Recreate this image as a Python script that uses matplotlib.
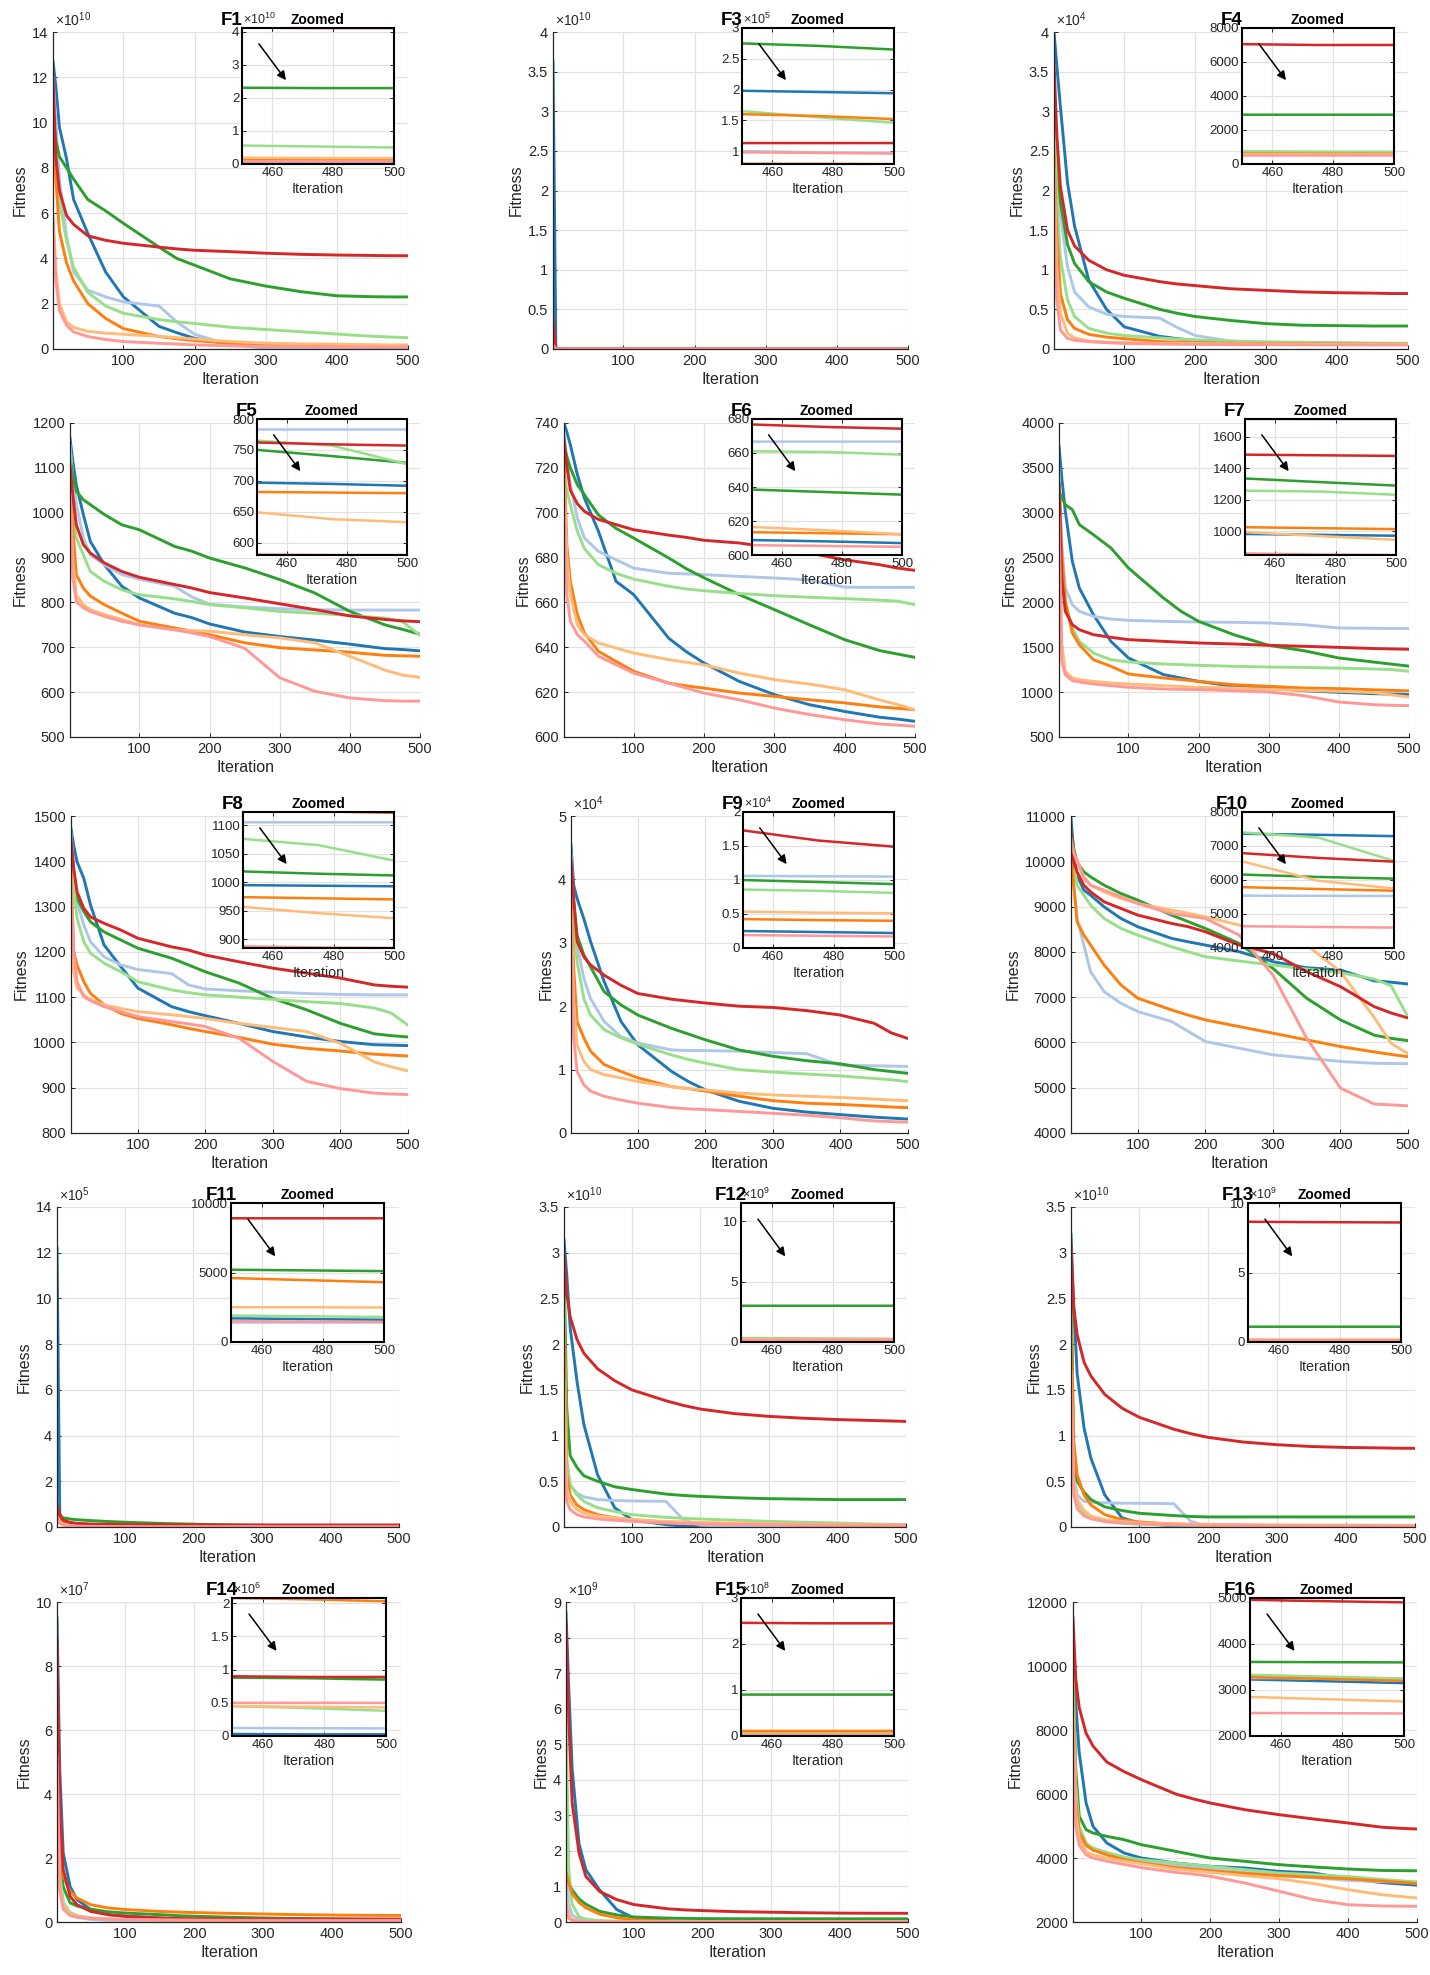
import numpy as np
import matplotlib
matplotlib.use("Agg")
import matplotlib.pyplot as plt
from matplotlib.ticker import FuncFormatter

plt.rcParams['font.family'] = ['Liberation Sans', 'DejaVu Sans']

W, H = 1430, 1975

ITERS = [1, 5, 10, 20, 30, 50, 75, 100, 150, 175, 200, 250, 300, 350, 400, 450, 475, 500]

# row order in every panel: red, green, light green, blue, light blue, orange, light orange, pink
COLORS = ['#d62728', '#2ca02c', '#98df8a', '#1f77b4', '#aec7e8', '#ff7f0e', '#ffbb78', '#ff9896']
DRAW_ORDER = [3, 4, 1, 2, 5, 6, 0, 7]

F1 = np.array([
    [12.0, 8.5, 7.0, 5.9, 5.5, 5.0, 4.8, 4.67, 4.5, 4.42, 4.36, 4.3, 4.23, 4.18, 4.15, 4.13, 4.12, 4.12],
    [10.4, 9.2, 8.5, 8.0, 7.5, 6.6, 6.1, 5.55, 4.5, 4.0, 3.7, 3.1, 2.78, 2.53, 2.35, 2.31, 2.3, 2.3],
    [9.5, 8.0, 6.5, 4.8, 3.6, 2.5, 1.9, 1.58, 1.3, 1.2, 1.13, 0.96, 0.86, 0.76, 0.66, 0.56, 0.53, 0.5],
    [12.7, 11.6, 9.8, 8.4, 6.6, 5.1, 3.4, 2.3, 1.0, 0.72, 0.47, 0.22, 0.06, 0.03, 0.02, 0.02, 0.02, 0.02],
    [12.0, 10.0, 7.5, 5.0, 3.4, 2.6, 2.3, 2.08, 1.9, 1.2, 0.65, 0.18, 0.04, 0.02, 0.01, 0.01, 0.01, 0.01],
    [11.0, 7.5, 5.2, 3.8, 3.0, 2.0, 1.35, 0.9, 0.55, 0.45, 0.37, 0.26, 0.2, 0.17, 0.15, 0.14, 0.13, 0.13],
    [6.0, 3.5, 2.0, 1.2, 0.95, 0.78, 0.7, 0.65, 0.56, 0.5, 0.44, 0.33, 0.26, 0.23, 0.21, 0.19, 0.18, 0.18],
    [5.7, 3.0, 1.7, 1.05, 0.75, 0.55, 0.42, 0.33, 0.25, 0.22, 0.18, 0.14, 0.11, 0.1, 0.09, 0.08, 0.08, 0.08],
]) * 1e10

F3 = np.array([
    [4.0e9, 2e7, 5e6, 1e6, 6e5, 3e5, 2e5, 1.6e5, 1.3e5, 1.25e5, 1.2e5, 1.18e5, 1.16e5, 1.15e5, 1.14e5, 1.13e5, 1.13e5, 1.13e5],
    [1e9, 3e7, 1e7, 3e6, 1.5e6, 8e5, 5e5, 4e5, 3.4e5, 3.2e5, 3.1e5, 2.95e5, 2.88e5, 2.82e5, 2.78e5, 2.75e5, 2.71e5, 2.65e5],
    [8e8, 2e7, 5e6, 1e6, 6e5, 4e5, 3e5, 2.5e5, 2.1e5, 2.0e5, 1.9e5, 1.8e5, 1.75e5, 1.7e5, 1.68e5, 1.65e5, 1.55e5, 1.46e5],
    [3.63e10, 5e7, 2e7, 5e6, 2e6, 1e6, 6e5, 4e5, 3e5, 2.6e5, 2.4e5, 2.2e5, 2.1e5, 2.05e5, 2.0e5, 1.98e5, 1.96e5, 1.94e5],
    [2e9, 1e7, 3e6, 8e5, 4e5, 2.5e5, 1.8e5, 1.5e5, 1.3e5, 1.2e5, 1.15e5, 1.1e5, 1.05e5, 1.03e5, 1.01e5, 1.0e5, 0.98e5, 0.97e5],
    [1.5e9, 1e7, 3e6, 8e5, 4e5, 2.6e5, 2.1e5, 1.9e5, 1.8e5, 1.75e5, 1.72e5, 1.68e5, 1.65e5, 1.63e5, 1.61e5, 1.6e5, 1.57e5, 1.52e5],
    [1e9, 5e6, 1e6, 3e5, 1.8e5, 1.2e5, 1.0e5, 0.95e5, 0.9e5, 0.88e5, 0.86e5, 0.84e5, 0.83e5, 0.82e5, 0.81e5, 0.8e5, 0.8e5, 0.79e5],
    [5e8, 5e6, 1e6, 3e5, 1.8e5, 1.3e5, 1.15e5, 1.1e5, 1.05e5, 1.03e5, 1.02e5, 1.0e5, 0.99e5, 0.985e5, 0.98e5, 0.98e5, 0.97e5, 0.96e5],
])

F4 = np.array([
    [3.6, 2.7, 2.05, 1.5, 1.3, 1.12, 1.0, 0.93, 0.85, 0.82, 0.8, 0.76, 0.74, 0.72, 0.71, 0.705, 0.7, 0.7],
    [3.2, 2.4, 1.85, 1.32, 1.08, 0.85, 0.72, 0.64, 0.5, 0.45, 0.41, 0.36, 0.32, 0.3, 0.295, 0.29, 0.29, 0.29],
    [3.0, 1.9, 1.15, 0.62, 0.41, 0.26, 0.2, 0.17, 0.14, 0.125, 0.115, 0.1, 0.09, 0.085, 0.08, 0.075, 0.073, 0.072],
    [4.0, 3.57, 3.06, 2.1, 1.55, 0.87, 0.5, 0.28, 0.16, 0.13, 0.11, 0.09, 0.08, 0.075, 0.07, 0.066, 0.065, 0.065],
    [2.9, 2.3, 1.7, 1.04, 0.72, 0.53, 0.44, 0.41, 0.39, 0.27, 0.17, 0.1, 0.08, 0.072, 0.068, 0.065, 0.064, 0.064],
    [2.45, 1.45, 0.7, 0.37, 0.26, 0.185, 0.15, 0.13, 0.095, 0.085, 0.08, 0.072, 0.068, 0.065, 0.063, 0.061, 0.06, 0.06],
    [2.3, 1.0, 0.45, 0.2, 0.14, 0.1, 0.085, 0.08, 0.072, 0.07, 0.068, 0.065, 0.062, 0.06, 0.058, 0.057, 0.056, 0.056],
    [2.25, 0.62, 0.24, 0.135, 0.11, 0.093, 0.08, 0.07, 0.062, 0.06, 0.058, 0.055, 0.053, 0.052, 0.051, 0.05, 0.05, 0.05],
]) * 1e4

F5 = np.array([
    [1108, 1040, 973, 929, 910, 888, 869, 856, 840, 832, 822, 810, 797, 784, 770, 762, 759, 757],
    [1120, 1085, 1048, 1029, 1018, 996, 973, 962, 925, 914, 899, 877, 851, 821, 780, 750, 740, 729],
    [1130, 1000, 944, 906, 869, 847, 828, 817, 808, 802, 795, 788, 780, 776, 771, 765, 757, 727],
    [1166, 1115, 1062, 996, 936, 884, 836, 810, 776, 766, 752, 734, 724, 716, 707, 697, 695, 692],
    [1150, 1080, 1020, 944, 906, 884, 862, 852, 836, 812, 796, 790, 786, 784, 783, 783, 783, 783],
    [1100, 966, 862, 832, 814, 795, 776, 758, 743, 736, 728, 710, 699, 694, 689, 682, 681, 680],
    [1050, 892, 817, 795, 784, 773, 762, 750, 739, 737, 736, 728, 721, 710, 680, 649, 638, 633],
    [1040, 855, 802, 788, 780, 769, 758, 750, 739, 732, 724, 698, 632, 602, 587, 581, 580, 580],
])

F6 = np.array([
    [733, 721, 710, 704, 700.6, 697, 694.7, 692.4, 690, 689, 687.7, 686.5, 684.3, 682, 679, 676.8, 675.3, 674.3],
    [730, 725, 720, 712.5, 708, 699, 693, 688.7, 679.8, 675, 671, 663.5, 656.8, 650, 643.4, 638.5, 637, 635.5],
    [718, 710, 703.6, 691.7, 684, 676.8, 673, 670.4, 667.2, 666, 665.2, 664, 663, 662.3, 661.7, 661, 660.6, 659],
    [740, 736, 730.3, 717, 706.5, 691.7, 669.4, 663.5, 644, 638, 633, 624.8, 618.9, 614.4, 611.4, 608.8, 608, 607],
    [736, 724, 712.5, 697.6, 688.7, 682.8, 679, 675.3, 673, 672.7, 672.4, 671.6, 670.9, 670, 666.8, 666.7, 666.7, 666.7],
    [726, 685.7, 669.4, 654.5, 646.4, 638.2, 633.7, 629.3, 624, 622.8, 621.8, 619.6, 618.1, 616.6, 615.2, 613.4, 612.8, 612.2],
    [715, 680, 663.5, 650, 645.6, 641.9, 639.7, 637.4, 634.5, 633.3, 632.2, 628.5, 625.6, 623.6, 621.1, 616.5, 614.5, 612.2],
    [710, 663.5, 651.6, 645.6, 642.7, 636, 632.2, 628.5, 624, 621.8, 619.6, 616.6, 612.9, 610, 607.7, 605.8, 605.3, 604.8],
])

F7 = np.array([
    [3330, 2272, 1901, 1752, 1696, 1641, 1611, 1585, 1566, 1557, 1548, 1537, 1522, 1511, 1499, 1486, 1482, 1478],
    [3240, 3164, 3090, 3034, 2867, 2755, 2607, 2384, 2049, 1901, 1789, 1641, 1522, 1462, 1381, 1335, 1312, 1290],
    [3420, 2458, 2012, 1715, 1566, 1436, 1362, 1336, 1314, 1306, 1299, 1288, 1280, 1275, 1268, 1258, 1252, 1232],
    [3740, 3387, 3015, 2458, 2161, 1864, 1566, 1381, 1195, 1158, 1120, 1065, 1046, 1016, 998, 983, 978, 972],
    [3480, 2644, 2161, 1975, 1901, 1845, 1815, 1800, 1789, 1785, 1782, 1778, 1771, 1752, 1715, 1712, 1710, 1710],
    [3310, 2532, 2012, 1659, 1529, 1362, 1288, 1202, 1158, 1139, 1120, 1083, 1065, 1046, 1039, 1026, 1020, 1014],
    [2900, 1529, 1232, 1158, 1139, 1120, 1102, 1091, 1072, 1063, 1054, 1046, 1031, 1020, 1009, 995, 970, 946],
    [2950, 1343, 1195, 1128, 1113, 1091, 1072, 1054, 1035, 1031, 1028, 1016, 1002, 961, 890, 860, 853, 850],
])

F8 = np.array([
    [1450, 1384, 1332, 1296, 1277, 1263, 1248, 1230, 1211, 1204, 1193, 1178, 1164, 1153, 1142, 1127, 1124, 1122],
    [1430, 1370, 1318, 1289, 1266, 1244, 1226, 1208, 1186, 1171, 1156, 1131, 1097, 1072, 1042, 1019, 1015, 1012],
    [1410, 1347, 1274, 1222, 1197, 1175, 1156, 1134, 1116, 1110, 1105, 1100, 1095, 1090, 1086, 1076, 1065, 1038],
    [1472, 1435, 1399, 1362, 1303, 1215, 1167, 1120, 1079, 1068, 1059, 1042, 1024, 1012, 1002, 995, 994, 993],
    [1460, 1384, 1310, 1259, 1222, 1189, 1171, 1161, 1152, 1127, 1118, 1114, 1111, 1108, 1106, 1105, 1105, 1105],
    [1390, 1200, 1171, 1134, 1108, 1083, 1064, 1053, 1039, 1031, 1024, 1011, 996, 987, 981, 974, 972, 970],
    [1370, 1156, 1120, 1105, 1094, 1083, 1075, 1068, 1061, 1057, 1053, 1042, 1033, 1024, 998, 957, 946, 937],
    [1360, 1200, 1134, 1101, 1092, 1079, 1068, 1057, 1046, 1041, 1035, 1009, 958, 914, 898, 888, 886, 885],
])

F9 = np.array([
    [4.3, 3.7, 3.02, 2.78, 2.65, 2.49, 2.33, 2.2, 2.11, 2.08, 2.05, 2.0, 1.98, 1.93, 1.86, 1.73, 1.58, 1.49],
    [4.2, 3.65, 3.12, 2.81, 2.62, 2.23, 2.02, 1.86, 1.65, 1.56, 1.47, 1.31, 1.21, 1.14, 1.09, 1.0, 0.97, 0.94],
    [3.9, 3.28, 2.7, 2.12, 1.86, 1.63, 1.5, 1.4, 1.23, 1.16, 1.1, 1.0, 0.96, 0.93, 0.9, 0.86, 0.84, 0.81],
    [4.54, 3.91, 3.7, 3.38, 3.02, 2.39, 1.76, 1.39, 0.97, 0.81, 0.68, 0.5, 0.39, 0.33, 0.29, 0.25, 0.235, 0.22],
    [4.4, 3.6, 2.96, 2.44, 2.12, 1.76, 1.52, 1.42, 1.31, 1.3, 1.3, 1.29, 1.27, 1.25, 1.07, 1.06, 1.055, 1.05],
    [3.7, 2.6, 1.76, 1.5, 1.29, 1.08, 0.97, 0.87, 0.73, 0.7, 0.66, 0.58, 0.51, 0.47, 0.45, 0.425, 0.41, 0.4],
    [3.5, 2.07, 1.39, 1.13, 1.0, 0.92, 0.87, 0.81, 0.73, 0.7, 0.68, 0.63, 0.6, 0.58, 0.56, 0.535, 0.52, 0.51],
    [3.3, 1.5, 0.97, 0.76, 0.66, 0.58, 0.52, 0.47, 0.4, 0.38, 0.37, 0.34, 0.31, 0.28, 0.24, 0.19, 0.18, 0.17],
]) * 1e4

F10 = np.array([
    [10650, 9986, 9766, 9472, 9325, 9105, 8958, 8811, 8627, 8554, 8444, 8150, 7966, 7562, 7232, 6790, 6650, 6540],
    [10700, 10280, 9986, 9766, 9656, 9472, 9288, 9142, 8811, 8664, 8517, 8187, 7636, 6975, 6497, 6160, 6090, 6040],
    [10500, 9986, 9472, 9252, 9031, 8737, 8517, 8370, 8113, 8000, 7893, 7797, 7709, 7621, 7540, 7400, 7250, 6560],
    [10950, 10206, 9692, 9362, 9252, 8994, 8737, 8554, 8297, 8220, 8150, 8003, 7783, 7650, 7599, 7360, 7330, 7290],
    [10400, 9472, 8737, 8150, 7562, 7122, 6865, 6681, 6461, 6240, 6020, 5873, 5726, 5653, 5579, 5540, 5535, 5530],
    [10300, 9472, 8664, 8370, 8150, 7709, 7268, 6975, 6718, 6600, 6497, 6350, 6204, 6057, 5910, 5790, 5735, 5685],
    [10200, 10100, 10060, 9619, 9472, 9325, 9178, 9068, 8921, 8850, 8774, 8591, 8370, 8150, 7562, 6550, 5980, 5750],
    [10500, 10200, 9986, 9656, 9472, 9362, 9215, 9068, 8848, 8790, 8737, 8370, 7489, 6093, 4992, 4640, 4620, 4600],
])

F11 = np.array([
    [1.0e5, 5e4, 3e4, 2e4, 1.6e4, 1.3e4, 1.15e4, 1.05e4, 9.7e3, 9.5e3, 9.3e3, 9.1e3, 9.0e3, 8.95e3, 8.9e3, 8.9e3, 8.9e3, 8.9e3],
    [8e4, 5e4, 4e4, 3.5e4, 3.2e4, 2.8e4, 2.4e4, 2.1e4, 1.6e4, 1.4e4, 1.25e4, 9e3, 7e3, 6.2e3, 5.6e3, 5.2e3, 5.15e3, 5.1e3],
    [6e4, 2.5e4, 1.5e4, 1.0e4, 8e3, 6e3, 4.5e3, 3.8e3, 3e3, 2.7e3, 2.5e3, 2.2e3, 2.1e3, 2.0e3, 1.95e3, 1.9e3, 1.85e3, 1.8e3],
    [1.22e6, 6e4, 3e4, 1.5e4, 1e4, 6e3, 4e3, 3e3, 2.3e3, 2.1e3, 2e3, 1.9e3, 1.8e3, 1.75e3, 1.72e3, 1.7e3, 1.65e3, 1.6e3],
    [9e4, 3e4, 1.5e4, 8e3, 5e3, 3e3, 2.2e3, 1.9e3, 1.7e3, 1.6e3, 1.55e3, 1.5e3, 1.45e3, 1.42e3, 1.4e3, 1.4e3, 1.4e3, 1.4e3],
    [7e4, 3.5e4, 2.5e4, 1.8e4, 1.4e4, 1.1e4, 8.5e3, 7e3, 5.8e3, 5.4e3, 5.1e3, 4.9e3, 4.8e3, 4.7e3, 4.65e3, 4.6e3, 4.45e3, 4.3e3],
    [5e4, 2e4, 1.2e4, 8e3, 6e3, 4.5e3, 3.6e3, 3.2e3, 2.9e3, 2.8e3, 2.7e3, 2.6e3, 2.55e3, 2.52e3, 2.5e3, 2.5e3, 2.5e3, 2.48e3],
    [4e4, 1.5e4, 8e3, 5e3, 3.5e3, 2.6e3, 2.1e3, 1.9e3, 1.7e3, 1.65e3, 1.6e3, 1.55e3, 1.52e3, 1.5e3, 1.5e3, 1.5e3, 1.47e3, 1.45e3],
])

F12 = np.array([
    [3.0, 2.55, 2.3, 2.05, 1.9, 1.73, 1.6, 1.5, 1.38, 1.33, 1.29, 1.24, 1.21, 1.19, 1.175, 1.165, 1.16, 1.155],
    [2.9, 1.3, 0.78, 0.65, 0.56, 0.5, 0.44, 0.41, 0.36, 0.345, 0.335, 0.32, 0.31, 0.305, 0.3, 0.3, 0.3, 0.3],
    [2.5, 0.75, 0.46, 0.35, 0.28, 0.21, 0.17, 0.135, 0.105, 0.095, 0.088, 0.075, 0.062, 0.052, 0.044, 0.033, 0.03, 0.027],
    [3.14, 2.76, 2.18, 1.59, 1.12, 0.57, 0.21, 0.08, 0.025, 0.01, 0.005, 0.003, 0.002, 0.002, 0.002, 0.002, 0.002, 0.002],
    [2.0, 0.65, 0.46, 0.37, 0.33, 0.3, 0.29, 0.285, 0.28, 0.08, 0.02, 0.004, 0.002, 0.002, 0.002, 0.002, 0.002, 0.002],
    [2.2, 0.57, 0.35, 0.24, 0.19, 0.135, 0.1, 0.08, 0.055, 0.05, 0.044, 0.035, 0.028, 0.023, 0.019, 0.016, 0.015, 0.014],
    [1.6, 0.43, 0.28, 0.19, 0.15, 0.12, 0.1, 0.08, 0.06, 0.055, 0.05, 0.043, 0.036, 0.031, 0.027, 0.024, 0.023, 0.022],
    [0.9, 0.28, 0.19, 0.135, 0.11, 0.088, 0.073, 0.062, 0.044, 0.038, 0.033, 0.028, 0.025, 0.022, 0.02, 0.019, 0.018, 0.018],
]) * 1e10

F13 = np.array([
    [3.07, 2.4, 2.1, 1.8, 1.65, 1.45, 1.3, 1.2, 1.07, 1.02, 0.98, 0.93, 0.9, 0.88, 0.87, 0.865, 0.862, 0.86],
    [2.8, 0.7, 0.5, 0.38, 0.3, 0.22, 0.18, 0.15, 0.125, 0.115, 0.11, 0.11, 0.11, 0.11, 0.11, 0.11, 0.11, 0.11],
    [2.3, 0.45, 0.25, 0.15, 0.1, 0.06, 0.04, 0.03, 0.02, 0.017, 0.015, 0.012, 0.01, 0.008, 0.006, 0.005, 0.005, 0.005],
    [3.2, 2.4, 1.67, 1.08, 0.75, 0.35, 0.1, 0.045, 0.01, 0.005, 0.003, 0.002, 0.002, 0.002, 0.002, 0.002, 0.002, 0.002],
    [2.3, 0.57, 0.35, 0.28, 0.27, 0.265, 0.26, 0.26, 0.255, 0.06, 0.01, 0.003, 0.002, 0.002, 0.002, 0.002, 0.002, 0.002],
    [2.35, 0.94, 0.57, 0.35, 0.24, 0.135, 0.08, 0.055, 0.033, 0.028, 0.025, 0.02, 0.016, 0.014, 0.013, 0.012, 0.012, 0.012],
    [1.7, 0.5, 0.3, 0.18, 0.12, 0.08, 0.06, 0.045, 0.035, 0.032, 0.03, 0.026, 0.023, 0.021, 0.02, 0.019, 0.018, 0.018],
    [1.7, 0.35, 0.2, 0.12, 0.09, 0.06, 0.045, 0.035, 0.025, 0.022, 0.02, 0.017, 0.015, 0.014, 0.013, 0.012, 0.012, 0.012],
]) * 1e10

F14 = np.array([
    [8.8e7, 3.7e7, 1.64e7, 8e6, 5.4e6, 3.3e6, 2.3e6, 1.8e6, 1.25e6, 1.1e6, 1.0e6, 9.4e5, 9.2e5, 9.1e5, 9.0e5, 9.0e5, 8.9e5, 8.9e5],
    [5.2e7, 2.16e7, 1.1e7, 6e6, 5e6, 4e6, 3.2e6, 2.8e6, 2.3e6, 2.0e6, 1.8e6, 1.5e6, 1.25e6, 1.1e6, 1.0e6, 8.8e5, 8.7e5, 8.5e5],
    [5e7, 1.5e7, 6e6, 3e6, 2e6, 1.3e6, 1.0e6, 8.5e5, 7e5, 6.5e5, 6e5, 5.3e5, 5e5, 4.8e5, 4.6e5, 4.5e5, 4.2e5, 3.8e5],
    [9.5e7, 4.76e7, 2.16e7, 1.11e7, 7e6, 3.9e6, 2.3e6, 1.8e6, 1.25e6, 9e5, 7e5, 4e5, 2e5, 1e5, 5e4, 3e4, 2.5e4, 2.5e4],
    [6e7, 1.8e7, 6e6, 2.5e6, 1.5e6, 8e5, 5e5, 3.5e5, 2.5e5, 2.2e5, 2e5, 1.7e5, 1.5e5, 1.35e5, 1.25e5, 1.2e5, 1.18e5, 1.15e5],
    [5.7e7, 2.68e7, 1.43e7, 9.6e6, 7.5e6, 5.4e6, 4.4e6, 3.9e6, 3.3e6, 3.1e6, 2.95e6, 2.7e6, 2.5e6, 2.3e6, 2.18e6, 2.08e6, 2.06e6, 2.03e6],
    [4e7, 1.2e7, 5e6, 2.5e6, 1.8e6, 1.2e6, 9e5, 7.5e5, 6e5, 5.6e5, 5.3e5, 5e5, 4.8e5, 4.7e5, 4.6e5, 4.5e5, 4.4e5, 4.3e5],
    [5.2e7, 1e7, 4e6, 2e6, 1.5e6, 1.1e6, 9e5, 8e5, 7e5, 6.5e5, 6e5, 5.6e5, 5.3e5, 5.1e5, 5.0e5, 5.0e5, 5.0e5, 5.0e5],
])

F15 = np.array([
    [8.4e9, 5.7e9, 3.35e9, 1.94e9, 1.28e9, 8.6e8, 6.3e8, 4.9e8, 3.7e8, 3.4e8, 3.2e8, 2.9e8, 2.75e8, 2.6e8, 2.5e8, 2.46e8, 2.45e8, 2.45e8],
    [1.3e9, 1.1e9, 9e8, 6.5e8, 5e8, 3e8, 2e8, 1.4e8, 1.1e8, 1.0e8, 9.5e7, 9.2e7, 9.1e7, 9.0e7, 9.0e7, 9.0e7, 9.0e7, 9.0e7],
    [5.8e9, 1.5e9, 5e8, 1.5e8, 8e7, 4e7, 2.5e7, 1.8e7, 1.2e7, 1e7, 9e6, 8e6, 7e6, 6.5e6, 6e6, 6e6, 6e6, 6e6],
    [8.7e9, 6.6e9, 4.3e9, 2.2e9, 1.47e9, 9e8, 3.5e8, 1.1e8, 3e7, 1.5e7, 1e7, 6e6, 4e6, 3e6, 2e6, 2e6, 2e6, 2e6],
    [1.8e9, 5e8, 2e8, 8e7, 4e7, 2e7, 1e7, 6e6, 4e6, 3.5e6, 3e6, 2.5e6, 2e6, 2e6, 2e6, 2e6, 2e6, 2e6],
    [1.4e9, 1.1e9, 8e8, 5.5e8, 4e8, 2.2e8, 1.2e8, 6e7, 2.5e7, 1.8e7, 1.5e7, 1.3e7, 1.2e7, 1.15e7, 1.1e7, 1.1e7, 1.1e7, 1.1e7],
    [7e8, 2e8, 8e7, 3e7, 1.5e7, 9e6, 7e6, 6e6, 5e6, 4.8e6, 4.5e6, 4.2e6, 4e6, 4e6, 4e6, 4e6, 4e6, 4e6],
    [5e8, 1e8, 4e7, 1.5e7, 1e7, 6e6, 4.5e6, 4e6, 3.5e6, 3.3e6, 3.2e6, 3e6, 3e6, 3e6, 3e6, 3e6, 3e6, 3e6],
])

F16 = np.array([
    [11500, 9600, 8700, 7900, 7500, 7000, 6700, 6450, 6000, 5850, 5719, 5510, 5354, 5219, 5094, 4960, 4930, 4905],
    [10000, 6760, 5302, 4885, 4781, 4677, 4573, 4417, 4208, 4100, 4000, 3896, 3792, 3719, 3656, 3610, 3605, 3600],
    [10000, 6240, 4990, 4469, 4313, 4177, 4031, 3948, 3844, 3790, 3740, 3635, 3531, 3480, 3420, 3330, 3290, 3250],
    [10770, 8844, 7281, 5719, 4990, 4469, 4156, 4000, 3844, 3790, 3740, 3688, 3583, 3531, 3350, 3230, 3190, 3150],
    [9000, 5500, 4700, 4400, 4250, 4100, 3980, 3900, 3750, 3700, 3650, 3550, 3450, 3380, 3300, 3260, 3255, 3250],
    [9500, 5800, 4800, 4400, 4250, 4100, 3950, 3850, 3700, 3650, 3600, 3520, 3450, 3400, 3350, 3280, 3240, 3200],
    [9000, 5400, 4600, 4200, 4100, 4000, 3900, 3820, 3650, 3600, 3550, 3450, 3350, 3200, 3010, 2850, 2800, 2750],
    [8000, 5000, 4400, 4100, 4000, 3900, 3800, 3700, 3550, 3500, 3430, 3220, 2960, 2700, 2540, 2500, 2495, 2490],
])

NAMES = ['F1', 'F3', 'F4', 'F5', 'F6', 'F7', 'F8', 'F9', 'F10', 'F11', 'F12', 'F13', 'F14', 'F15', 'F16']
PANELS = [F1, F3, F4, F5, F6, F7, F8, F9, F10, F11, F12, F13, F14, F15, F16]

# main axes: (ymin, ymax, step, exponent)
MAIN_Y = [(0, 14e10, 2e10, 10), (0, 4e10, 0.5e10, 10), (0, 4e4, 0.5e4, 4),
          (500, 1200, 100, 0), (600, 740, 20, 0), (500, 4000, 500, 0),
          (800, 1500, 100, 0), (0, 5e4, 1e4, 4), (4000, 11000, 1000, 0),
          (0, 14e5, 2e5, 5), (0, 3.5e10, 0.5e10, 10), (0, 3.5e10, 0.5e10, 10),
          (0, 10e7, 2e7, 7), (0, 9e9, 1e9, 9), (2000, 12000, 2000, 0)]

# inset axes: (ylim, ticks, exponent)
INSET_Y = [((0, 4.12e10), [0, 1e10, 2e10, 3e10, 4e10], 10),
           ((0.79e5, 3e5), [1e5, 1.5e5, 2e5, 2.5e5, 3e5], 5),
           ((0, 8000), [0, 2000, 4000, 6000, 8000], 0),
           ((580, 800), [600, 650, 700, 750, 800], 0),
           ((600, 680), [600, 620, 640, 660, 680], 0),
           ((850, 1712), [1000, 1200, 1400, 1600], 0),
           ((885, 1123), [900, 950, 1000, 1050, 1100], 0),
           ((0, 2e4), [0, 0.5e4, 1e4, 1.5e4, 2e4], 4),
           ((4000, 8000), [4000, 5000, 6000, 7000, 8000], 0),
           ((0, 10000), [0, 5000, 10000], 0),
           ((0, 1.15e10), [0, 5e9, 10e9], 9),
           ((0, 1e10), [0, 5e9, 10e9], 9),
           ((0, 2.08e6), [0, 0.5e6, 1e6, 1.5e6, 2e6], 6),
           ((0, 3e8), [0, 1e8, 2e8, 3e8], 8),
           ((2000, 5000), [2000, 3000, 4000, 5000], 0)]

# pixel boxes (left, top, right, bottom)
MAIN_BOX = [(53, 32, 408, 349), (553, 32, 908, 349), (1054, 32, 1408, 349),
            (70, 423, 420, 737), (564, 423, 915, 737), (1059, 423, 1409, 737),
            (71, 816, 408, 1133), (571, 816, 908, 1133), (1071, 816, 1408, 1133),
            (57, 1207, 399, 1527), (564, 1207, 906, 1527), (1071, 1207, 1415, 1527),
            (57, 1602, 401, 1922), (566, 1602, 908, 1922), (1073, 1602, 1417, 1922)]
INSET_BOX = [(242, 28, 394, 164), (742, 28, 894, 164), (1242, 28, 1394, 164),
             (257, 419, 407, 555), (752, 419, 902, 555), (1245, 419, 1396, 555),
             (243, 812, 394, 948), (743, 812, 894, 948), (1242, 812, 1394, 948),
             (231, 1203, 384, 1342), (741, 1203, 894, 1342), (1248, 1203, 1401, 1342),
             (232, 1598, 386, 1736), (741, 1598, 894, 1736), (1250, 1598, 1404, 1736)]

DARK = '#262626'
GRID = '#e2e2e2'


def rect(box):
    l, t, r, b = box
    return [l / W, 1 - b / H, (r - l) / W, (b - t) / H]


def fmt(e):
    return FuncFormatter(lambda v, p: f"{v / 10 ** e:g}")


def exp_text(x, y, e, size):
    fig.text(x / W, 1 - y / H, '×' + r'$\mathregular{10^{%d}}$' % e,
             fontsize=size, color=DARK, ha='left', va='baseline')


fig = plt.figure(figsize=(W / 100, H / 100), dpi=100)

for i in range(15):
    data = PANELS[i]
    ymin, ymax, ystep, ye = MAIN_Y[i]

    ax = fig.add_axes(rect(MAIN_BOX[i]))
    for k in DRAW_ORDER:
        ax.plot(ITERS, data[k], color=COLORS[k], lw=2.1, solid_joinstyle='round')
    ax.set_xlim(1, 500)
    ax.set_ylim(ymin, ymax)
    ax.set_xticks([100, 200, 300, 400, 500])
    ax.set_yticks(np.arange(ymin, ymax + ystep / 2, ystep))
    ax.yaxis.set_major_formatter(fmt(ye))
    ax.grid(True, color=GRID, lw=0.9)
    ax.set_axisbelow(True)
    for s in ['top', 'right']:
        ax.spines[s].set_visible(False)
    for s in ['left', 'bottom']:
        ax.spines[s].set_color(DARK)
        ax.spines[s].set_linewidth(0.9)
    ax.tick_params(direction='in', length=3, width=0.7, colors=DARK, labelsize=10.5)
    ax.set_xlabel('Iteration', fontsize=11.5, color=DARK, labelpad=3)
    ax.set_ylabel('Fitness', fontsize=11.5, color=DARK, labelpad=3)
    if ye:
        l, t, r, b = MAIN_BOX[i]
        exp_text(l + 2, t - 6, ye, 10)

    # zoomed inset on the last 50 iterations
    ylim, yticks, ie = INSET_Y[i]
    ins = fig.add_axes(rect(INSET_BOX[i]), zorder=5)
    ins.set_facecolor('white')
    for k in DRAW_ORDER:
        ins.plot(ITERS, data[k], color=COLORS[k], lw=1.8)
    ins.set_xlim(450, 500)
    ins.set_ylim(*ylim)
    ins.set_xticks([460, 480, 500])
    ins.set_yticks(yticks)
    ins.yaxis.set_major_formatter(fmt(ie))
    ins.grid(True, color=GRID, lw=0.9)
    ins.set_axisbelow(True)
    for s in ins.spines.values():
        s.set_color('black')
        s.set_linewidth(1.5)
    ins.tick_params(direction='in', length=3, width=0.7, colors=DARK, labelsize=9.5,
                    top=True, right=True, pad=2)
    ins.set_xlabel('Iteration', fontsize=10.3, color=DARK, labelpad=2)
    ins.annotate('', xy=(0.30, 0.60), xytext=(0.10, 0.90), xycoords='axes fraction',
                 arrowprops=dict(arrowstyle='-|>', color='black', lw=1.1, mutation_scale=13))

    l, t, r, b = INSET_BOX[i]
    if ie:
        exp_text(l + 1, t - 4, ie, 9)
    fig.text((l - 10) / W, 1 - (t - 3) / H, NAMES[i], fontsize=13.5, fontweight='bold',
             ha='center', va='baseline')
    fig.text((l + r) / 2 / W, 1 - (t - 4) / H, 'Zoomed', fontsize=10, fontweight='bold',
             ha='center', va='baseline')

fig.savefig('out.png', dpi=100, facecolor='white')
